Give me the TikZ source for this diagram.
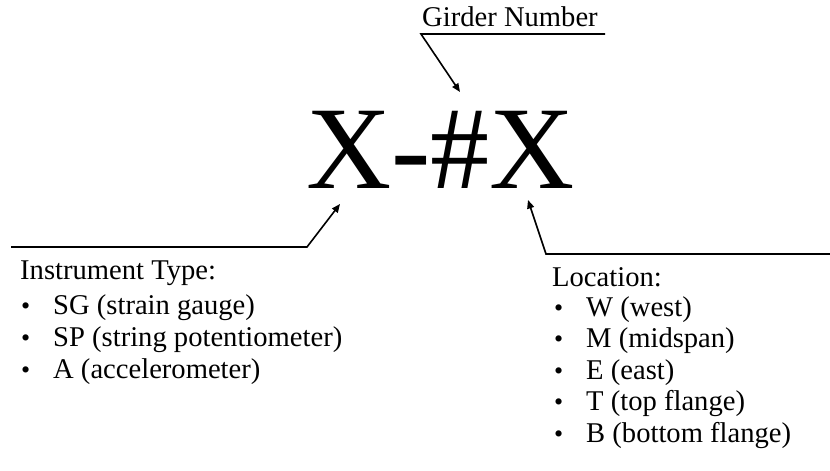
\documentclass[tikz,border=0pt]{standalone}
\usepackage{fontspec}
\setmainfont{Liberation Serif}
\usetikzlibrary{arrows.meta}
\begin{document}
\begin{tikzpicture}[x=1pt,y=-1pt,
  txt/.style={anchor=base west,inner sep=0pt,font=\fontsize{28.6}{33}\selectfont},
  bul/.style={anchor=base west,inner sep=0pt,font=\fontsize{26}{30}\selectfont},
  bigtxt/.style={anchor=base west,inner sep=0pt,font=\fontsize{118}{130}\selectfont},
  conn/.style={line width=1.6pt,line join=miter},
  arr/.style={conn,-{Triangle[length=8.5pt,width=7pt]}}]
\useasboundingbox (0,0) rectangle (830,471);
% title code
\node[bigtxt] (code) at (306,188) {X-\#X};
\node[txt] (gn) at (422,27) {Girder Number};
% left list
\node[txt] (it) at (20,279) {Instrument Type:};
\foreach \n/\y/\t in {sg/314/SG (strain gauge),sp/346/SP (string potentiometer),ac/378/A (accelerometer)}{
  \node[bul] (b\n) at (21,\y) {\textbullet};
  \node[txt] (\n) at (53,\y) {\t};
}
% right list
\node[txt] (loc) at (552,286) {Location:};
\foreach \n/\y/\t in {w/316/W (west),m/347/M (midspan),e/379/E (east),t/410/T (top flange),b/442/B (bottom flange)}{
  \node[bul] (b\n) at (554,\y) {\textbullet};
  \node[txt] (\n) at (586,\y) {\t};
}
% connector coordinates
\coordinate (gnR) at (605,34);
\coordinate (gnL) at (421,34);
\coordinate (gnTip) at (460,92);
\coordinate (itL) at (11,247);
\coordinate (itR) at (307,247);
\coordinate (itTip) at (340,204);
\coordinate (locR) at (830,254);
\coordinate (locL) at (546,254);
\coordinate (locTip) at (528,200);
\draw[arr] (gnR) -- (gnL) -- (gnTip);
\draw[arr] (itL) -- (itR) -- (itTip);
\draw[arr] (locR) -- (locL) -- (locTip);
\end{tikzpicture}
\end{document}
